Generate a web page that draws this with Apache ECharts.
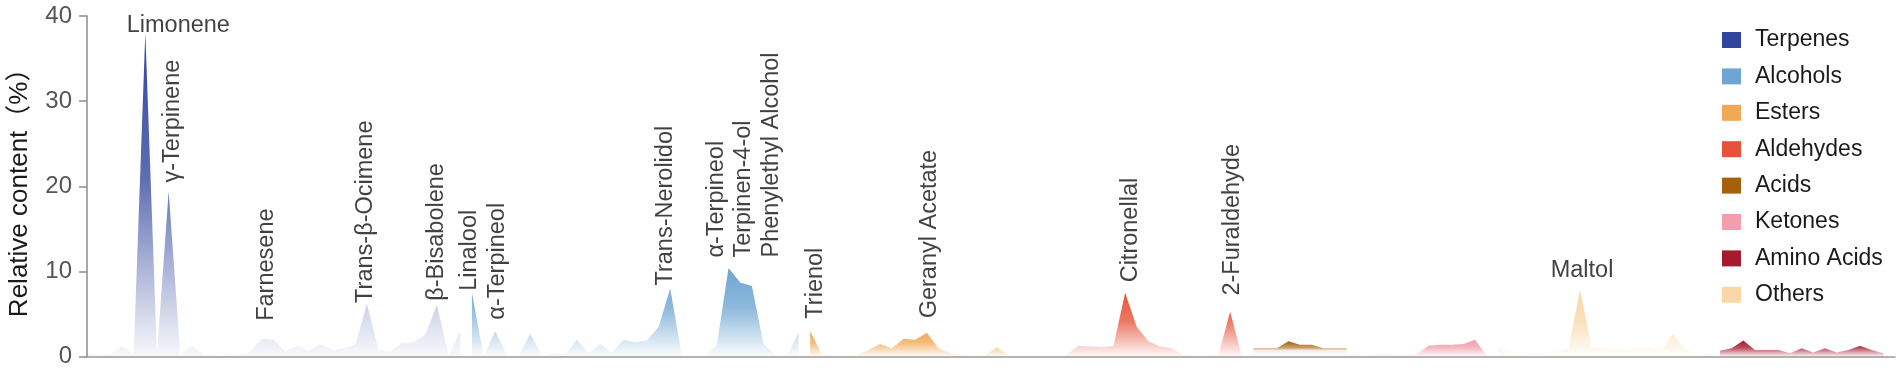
<!DOCTYPE html>
<html>
<head>
<meta charset="utf-8">
<script src="https://cdn.jsdelivr.net/npm/echarts@6/dist/echarts.min.js"></script>
<style>
  html, body { margin: 0; padding: 0; background: #fff; }
  #chart { width: 1902px; height: 373px; }
</style>
</head>
<body>
<div id="chart"></div>
<script>
// 相对含量（%），按出峰顺序排列，每类一段
const peakCount = 156; // x轴上的位置总数（最后一个空着）
const categories = Array.from({ length: peakCount }, (_, i) => String(i + 1));

const terpenes = [0.5, 0.2, 0.3, 1.2, 0.3, 38.0, 0.3, 19.4, 0.3, 1.3, 0.3, 0.1, 0.1, 0.2, 0.6, 2.1, 2.0,
  0.6, 1.3, 0.7, 1.5, 0.8, 1.0, 1.4, 6.2, 0.8, 0.6, 1.6, 1.7, 2.6, 6.1, 0.1, 3.0];
const alcohols = [7.5, 0.1, 3.0, 0.2, 0.1, 2.7, 0.1, 0.4, 0.3, 2.0, 0.4, 1.5, 0.5, 2.0, 1.7, 1.9, 3.5,
  8.0, 0.1, 0.2, 0.1, 1.4, 10.4, 8.7, 8.3, 1.5, 0.2, 0.1, 2.8];
const esters = [3.0, 0.3, 0.1, 0.1, 0.2, 0.8, 1.5, 1.0, 2.1, 2.0, 2.8, 1.0, 0.4, 0.2, 0.1, 0.2, 1.1, 0.2];
const aldehydes = [0.3, 1.3, 1.2, 1.1, 1.3, 7.5, 3.5, 1.8, 1.2, 1.0, 0.2, 0.1, 0.1, 0.2, 5.3, 0.1];
const acids = [1.0, 1.0, 1.0, 1.8, 1.4, 1.4, 1.0, 1.0, 1.0];
const ketones = [0.1, 0.2, 0.3, 0.2, 0.2, 0.3, 1.3, 1.4, 1.4, 1.5, 2.0, 0.1];
const others = [1.1, 0.6, 0.5, 0.4, 0.5, 0.6, 1.0, 7.8, 1.1, 1.0, 0.9, 0.8, 1.0, 1.1, 0.8, 2.7, 0.8, 0.5, 0.3];
const aminoAcids = [0.7, 1.0, 1.9, 0.8, 0.8, 0.8, 0.4, 1.0, 0.5, 1.0, 0.5, 0.8, 1.3, 0.8, 0.4];

// 每类在x轴上的起始位置
const groupNames = ["Terpenes", "Alcohols", "Esters", "Aldehydes", "Acids", "Ketones", "Amino Acids", "Others"];
const groupValues = [terpenes, alcohols, esters, aldehydes, acids, ketones, aminoAcids, others];
const groupStart = [0, 33, 62, 84, 100, 109, 140, 121];
const groupColors = ["#31459e", "#6ea5d3", "#f1a955", "#e6533a", "#a5600c", "#f19fac", "#a61a2e", "#f9d7a6"];

// 峰标注：名称、所属类别、该类中的位置
const peakLabels = [
  { text: "Limonene", group: 0, at: 5 },
  { text: "γ-Terpinene", group: 0, at: 7 },
  { text: "Farnesene", group: 0, at: 15 },
  { text: "Trans-β-Ocimene", group: 0, at: 24 },
  { text: "β-Bisabolene", group: 0, at: 30 },
  { text: "Linalool", group: 1, at: 0 },
  { text: "α-Terpineol", group: 1, at: 2 },
  { text: "Trans-Nerolidol", group: 1, at: 17 },
  { text: "α-Terpineol", group: 1, at: 22 },
  { text: "Terpinen-4-ol", group: 1, at: 23 },
  { text: "Phenylethyl Alcohol", group: 1, at: 24 },
  { text: "Trienol", group: 2, at: 0 },
  { text: "Geranyl Acetate", group: 2, at: 10 },
  { text: "Citronellal", group: 3, at: 5 },
  { text: "2-Furaldehyde", group: 3, at: 14 },
  { text: "Maltol", group: 7, at: 7 },
];
// 标注的摆放：[旋转, 水平偏移, 与峰顶距离]
const labelPlace = [
  [0, 33, -5.5], [90, 4, 8], [90, 5, 17], [90, -1, 0], [90, 0, 3],
  [90, -2, 1], [90, 2, 10.5], [90, -5, 2], [90, -12, 9.5], [90, 3, 24], [90, 20, 27.5],
  [90, 5, 11.5], [90, 3, 13.5], [90, 5, 9.5], [90, 2, 15], [0, 2, 6.8],
];

const fontFamily = "'Liberation Sans', Arial, 'Noto Sans CJK SC', sans-serif";

function pad(values, start) {
  const out = new Array(peakCount).fill(null);
  values.forEach((v, i) => { out[start + i] = v; });
  return out;
}

function rgba(hex, a) {
  const n = parseInt(hex.slice(1), 16);
  return `rgba(${(n >> 16) & 255},${(n >> 8) & 255},${n & 255},${a})`;
}

// 渐变：顶部实色，往基线方向变淡；酸类淡得更快
function areaGradient(hex, fast) {
  const stops = fast
    ? [[0, 1], [0.42, 0.6], [0.6, 0.1], [1, 0]]
    : [[0, 1], [0.45, 0.78], [0.8, 0.3], [1, 0.03]];
  return new echarts.graphic.LinearGradient(0, 0, 0, 1,
    stops.map(([o, a]) => ({ offset: o, color: rgba(hex, a) })));
}

const chart = echarts.init(document.getElementById("chart"), null, { renderer: "canvas" });

const areaSeries = groupNames.map((name, g) => ({
  name: name,
  type: "line",
  data: pad(groupValues[g], groupStart[g]),
  showSymbol: false,
  symbol: "none",
  connectNulls: false,
  silent: true,
  lineStyle: { width: 0 },
  itemStyle: { color: groupColors[g] },
  areaStyle: { opacity: 1, color: areaGradient(groupColors[g], name === "Acids") },
  emphasis: { disabled: true },
}));

const labelData = peakLabels.map((p, k) => {
  const [rot, dx, gap] = labelPlace[k];
  const idx = groupStart[p.group] + p.at;
  return {
    name: p.text,
    value: [idx, groupValues[p.group][p.at]],
    label: rot
      ? { rotate: 90, align: "left", verticalAlign: "middle", position: [0.5 + dx, -0.5 - gap] }
      : { rotate: 0, align: "center", verticalAlign: "bottom", position: [0.5 + dx, -0.5 - gap] },
  };
});

const option = {
  animation: false,
  backgroundColor: "#ffffff",
  grid: { left: 87, right: 7, top: 16, bottom: 16.3, containLabel: false, outerBoundsMode: "none" },
  legend: {
    data: groupNames,
    orient: "vertical",
    left: 1722,
    top: 28.5,
    padding: 0,
    icon: "rect",
    itemWidth: 19,
    itemHeight: 16,
    itemGap: 13.4,
    selectedMode: false,
    textStyle: { fontSize: 23, lineHeight: 23, color: "#1a1a1a", fontFamily: fontFamily, padding: [0, 0, 0, 9] },
  },
  xAxis: {
    type: "category",
    data: categories,
    boundaryGap: false,
    axisLine: { show: true, lineStyle: { color: "#9a9a9a", width: 1.5 } },
    axisTick: { show: false },
    axisLabel: { show: false },
    splitLine: { show: false },
  },
  yAxis: {
    type: "value",
    min: 0,
    max: 40,
    interval: 10,
    name: "Relative content（%）",
    nameLocation: "middle",
    nameGap: 54,
    nameRotate: 90,
    nameTextStyle: { fontSize: 26, color: "#1a1a1a", fontFamily: fontFamily },
    axisLine: { show: true, lineStyle: { color: "#8c8c8c", width: 1.5 } },
    axisTick: { show: true, inside: false, length: 8, lineStyle: { color: "#8c8c8c", width: 1.5 } },
    axisLabel: { fontSize: 24, color: "#555555", margin: 15, fontFamily: fontFamily },
    splitLine: { show: false },
  },
  series: [
    ...areaSeries,
    {
      name: "peakLabels",
      type: "scatter",
      data: labelData,
      symbolSize: 1,
      silent: true,
      z: 10,
      itemStyle: { color: "rgba(0,0,0,0)" },
      label: {
        show: true,
        formatter: (p) => p.name,
        fontSize: 23.5,
        color: "#111111",
        fontFamily: fontFamily,
      },
      emphasis: { disabled: true },
    },
  ],
};

chart.setOption(option);
</script>
</body>
</html>
